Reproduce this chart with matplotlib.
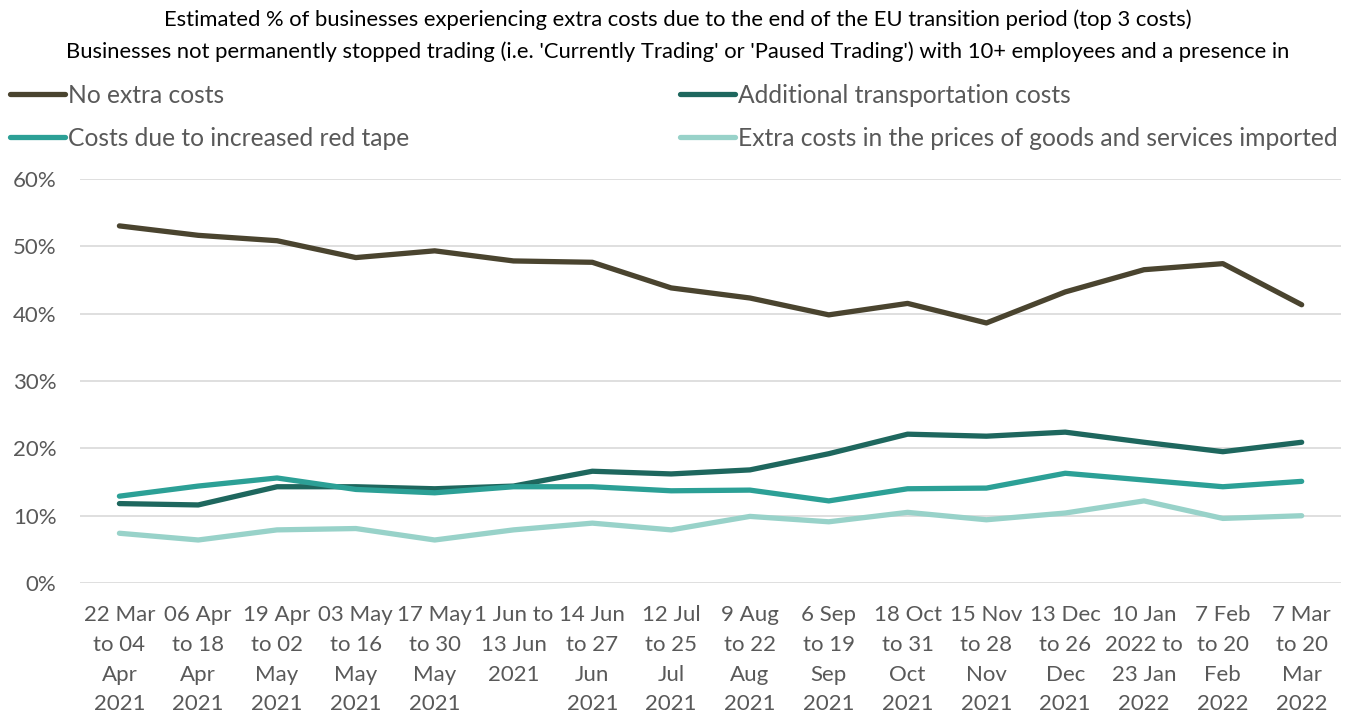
import numpy as np
import matplotlib.pyplot as plt
from matplotlib.ticker import PercentFormatter

plt.rcParams['font.family'] = ['Lato', 'DejaVu Sans']

periods = [
    "22 Mar\nto 04\nApr\n2021", "06 Apr\nto 18\nApr\n2021", "19 Apr\nto 02\nMay\n2021",
    "03 May\nto 16\nMay\n2021", "17 May\nto 30\nMay\n2021", "1 Jun to\n13 Jun\n2021",
    "14 Jun\nto 27\nJun\n2021", "12 Jul\nto 25\nJul\n2021", "9 Aug\nto 22\nAug\n2021",
    "6 Sep\nto 19\nSep\n2021", "18 Oct\nto 31\nOct\n2021", "15 Nov\nto 28\nNov\n2021",
    "13 Dec\nto 26\nDec\n2021", "10 Jan\n2022 to\n23 Jan\n2022", "7 Feb\nto 20\nFeb\n2022",
    "7 Mar\nto 20\nMar\n2022",
]

no_extra = [53.0, 51.6, 50.8, 48.3, 49.3, 47.8, 47.6, 43.8, 42.3, 39.8, 41.5, 38.6, 43.2, 46.5, 47.4, 41.3]
transport = [11.8, 11.6, 14.3, 14.3, 14.0, 14.4, 16.6, 16.2, 16.8, 19.2, 22.1, 21.8, 22.4, 20.9, 19.5, 20.9]
red_tape = [12.9, 14.4, 15.6, 13.9, 13.4, 14.3, 14.3, 13.7, 13.8, 12.2, 14.0, 14.1, 16.3, 15.3, 14.3, 15.1]
imports = [7.4, 6.4, 7.9, 8.1, 6.4, 7.9, 8.9, 7.9, 9.9, 9.1, 10.5, 9.4, 10.4, 12.2, 9.6, 10.0]

fig = plt.figure(figsize=(13.56, 7.12), dpi=100)
ax = fig.add_axes([0.059, 0.181, 0.93, 0.568])

x = np.arange(len(periods))
lw = 3.8
l1, = ax.plot(x, no_extra, color='#4a442f', lw=lw, solid_capstyle='round', label='No extra costs')
l2, = ax.plot(x, transport, color='#1e675e', lw=lw, solid_capstyle='round', label='Additional transportation costs')
l3, = ax.plot(x, red_tape, color='#2ca096', lw=lw, solid_capstyle='round', label='Costs due to increased red tape')
l4, = ax.plot(x, imports, color='#98d2c9', lw=lw, solid_capstyle='round',
              label='Extra costs in the prices of goods and services imported')

ax.set_xlim(-0.5, len(periods) - 0.5)
ax.set_ylim(0, 60)
ax.set_yticks(np.arange(0, 61, 10))
ax.yaxis.set_major_formatter(PercentFormatter(decimals=0))
ax.set_xticks(x)
ax.set_xticklabels(periods, linespacing=1.6)
ax.grid(axis='y', color='#d9d9d9', lw=1.2)
ax.set_axisbelow(True)
for s in ax.spines.values():
    s.set_visible(False)
ax.tick_params(length=0, labelsize=16, labelcolor='#595959')
ax.tick_params(axis='x', pad=16)
ax.tick_params(axis='y', pad=17)

fig.text(0.5, 0.972, "Estimated % of businesses experiencing extra costs due to the end of the EU transition period (top 3 costs)",
         ha='center', va='center', fontsize=15.8, color='black')
fig.text(0.5, 0.927, "Businesses not permanently stopped trading (i.e. 'Currently Trading' or 'Paused Trading') with 10+ employees and a presence in",
         ha='center', va='center', fontsize=15.8, color='black')

fig.legend(handles=[l1, l3, l2, l4], loc='upper left', bbox_to_anchor=(0.0074, 0.882), ncol=2,
           frameon=False, fontsize=17.7, labelcolor='#595959', handlelength=2.24,
           handletextpad=0.12, columnspacing=11.0, labelspacing=0.8, borderpad=0, borderaxespad=0)

fig.savefig('out.png', dpi=100)
